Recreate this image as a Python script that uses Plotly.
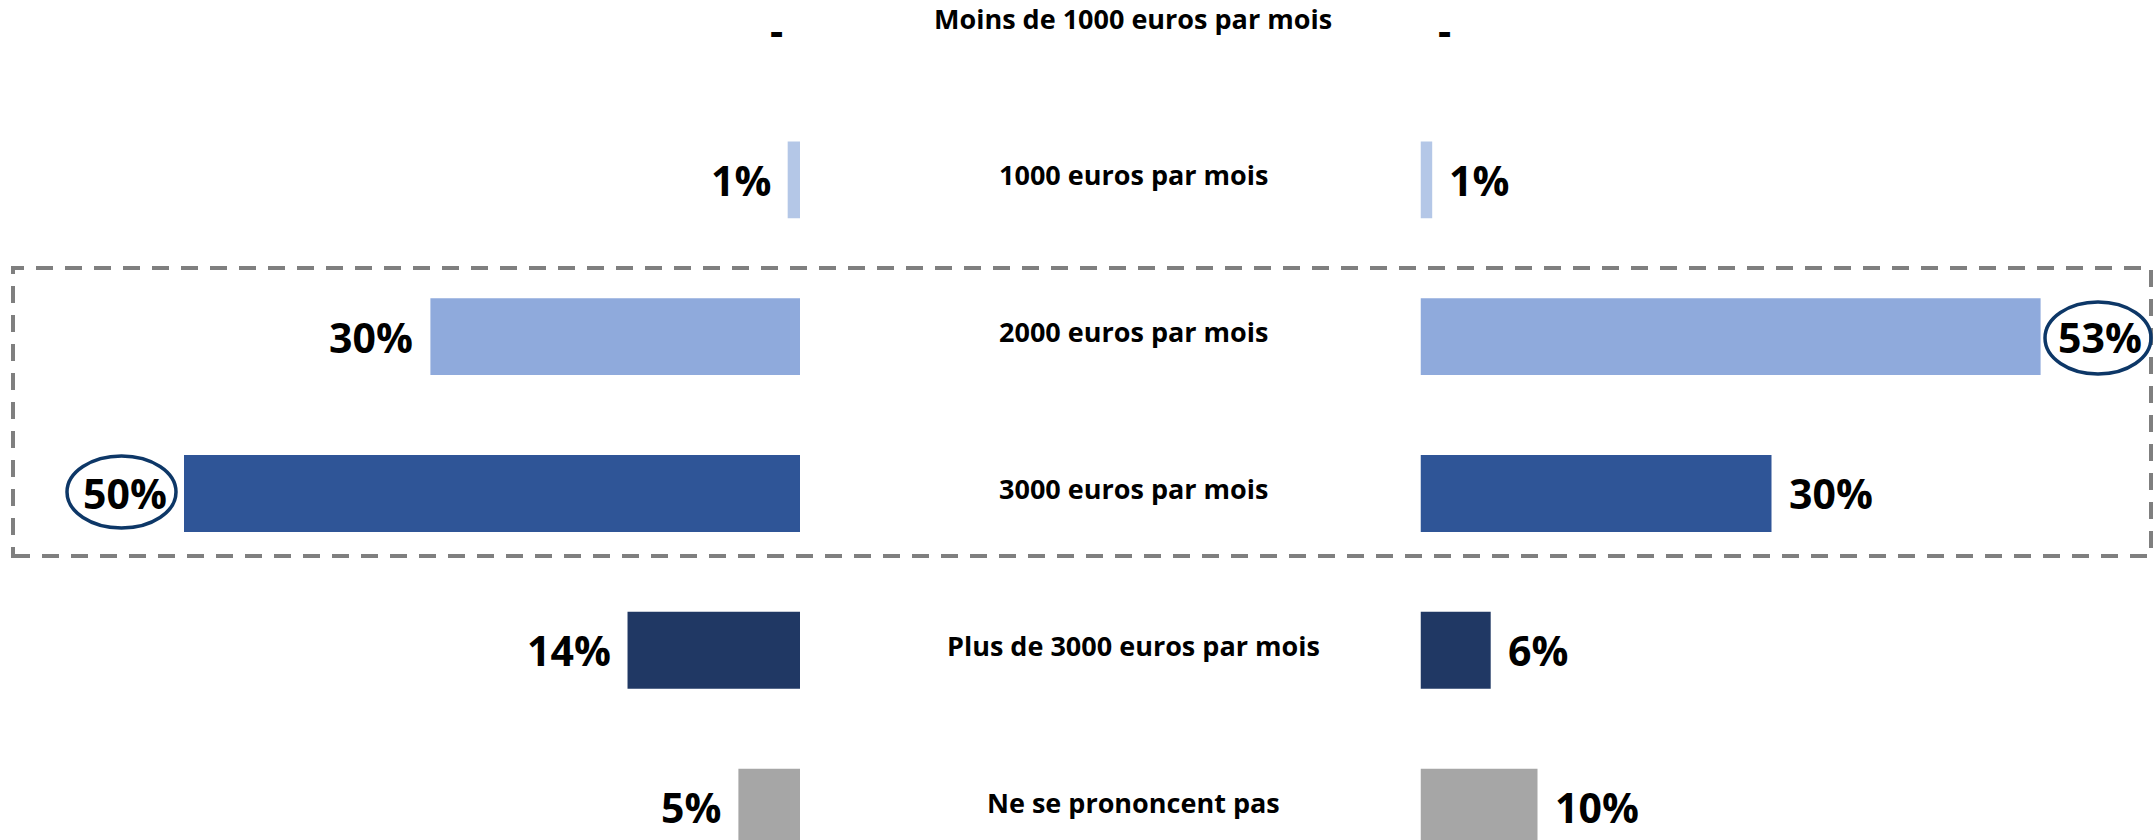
import plotly.graph_objects as go

categories = [
    "Moins de 1000 euros par mois",
    "1000 euros par mois",
    "2000 euros par mois",
    "3000 euros par mois",
    "Plus de 3000 euros par mois",
    "Ne se prononcent pas",
]
left_values = [0, 1, 30, 50, 14, 5]
right_values = [0, 1, 53, 30, 6, 10]
bar_colors = ["#b4c7e7", "#b4c7e7", "#8faadc", "#2f5597", "#203864", "#a6a6a6"]

W, H = 2153, 840
FONT = "Open Sans, sans-serif"


def px_x(p):
    return p / W


def px_y(p):
    return 1 - p / H


def value_label(v):
    return f"<b>{v}%</b>" if v else "<b>-</b>"


fig = go.Figure()
fig.add_trace(
    go.Bar(
        y=categories, x=left_values, orientation="h", xaxis="x", yaxis="y",
        marker=dict(color=bar_colors, line=dict(width=0)), width=0.49,
        showlegend=False, hoverinfo="skip",
    )
)
fig.add_trace(
    go.Bar(
        y=categories, x=right_values, orientation="h", xaxis="x2", yaxis="y",
        marker=dict(color=bar_colors, line=dict(width=0)), width=0.49,
        showlegend=False, hoverinfo="skip",
    )
)

annotations = []
for cat, lv, rv in zip(categories, left_values, right_values):
    annotations.append(dict(
        x=lv, y=cat, xref="x", yref="y", xanchor="right", yanchor="middle",
        xshift=-15, yshift=0 if lv else -7, text=value_label(lv),
        showarrow=False, font=dict(family=FONT, size=41, color="#000000"),
    ))
    annotations.append(dict(
        x=rv, y=cat, xref="x2", yref="y", xanchor="left", yanchor="middle",
        xshift=15, yshift=0 if rv else -7, text=value_label(rv),
        showarrow=False, font=dict(family=FONT, size=41, color="#000000"),
    ))
    annotations.append(dict(
        x=px_x(1133), y=cat, xref="paper", yref="y", xanchor="center",
        yanchor="middle", yshift=5, text=f"<b>{cat}</b>", showarrow=False,
        font=dict(family=FONT, size=27, color="#000000"),
    ))

shapes = [
    # dashed box around 2000 / 3000
    dict(type="rect", xref="paper", yref="paper",
         x0=px_x(13), x1=px_x(2151), y0=px_y(556), y1=px_y(268),
         line=dict(color="#7f7f7f", width=4, dash="17px,12px")),
    # highlight circles
    dict(type="circle", xref="paper", yref="paper",
         x0=px_x(67), x1=px_x(176), y0=px_y(528), y1=px_y(456),
         line=dict(color="#0d3767", width=3.5)),
    dict(type="circle", xref="paper", yref="paper",
         x0=px_x(2045), x1=px_x(2151), y0=px_y(374), y1=px_y(302),
         line=dict(color="#0d3767", width=3.5)),
]

fig.update_layout(
    width=W, height=H,
    margin=dict(l=0, r=0, t=0, b=0),
    paper_bgcolor="white", plot_bgcolor="white",
    xaxis=dict(domain=[0, px_x(800)], range=[800 / 12.32, 0],
               visible=False, fixedrange=True),
    xaxis2=dict(domain=[px_x(1420.5), 1], range=[0, 732.5 / 11.7],
                visible=False, fixedrange=True),
    yaxis=dict(type="category", range=[5.21, -0.147], visible=False,
               fixedrange=True),
    annotations=annotations,
    shapes=shapes,
)

# page body has a default 8px margin; drop it so the figure fills the window
fig.write_html(
    "out.html",
    config={"displayModeBar": False},
    post_script="document.body.style.margin='0';document.body.style.overflow='hidden';",
)
